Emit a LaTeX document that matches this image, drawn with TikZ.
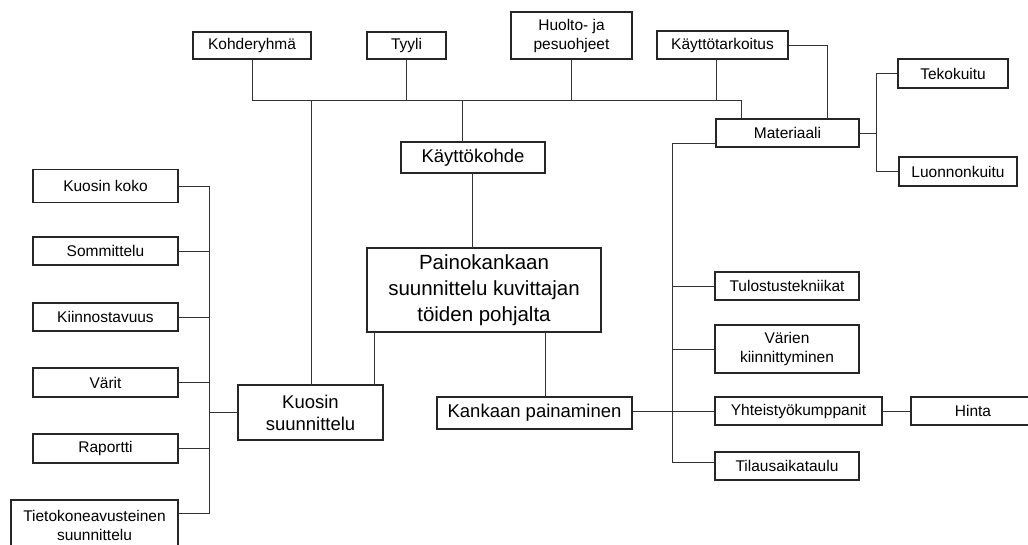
\documentclass[tikz,border=0pt]{standalone}
\usepackage{fontspec}
\setmainfont{Liberation Sans}
\begin{document}
\begin{tikzpicture}[x=1pt,y=-1pt,
  box/.style={draw=black!85, line width=1.2pt, fill=white, inner sep=0pt, align=center,
    font=\fontsize{15.5}{19}\selectfont},
  bigbox/.style={box, line width=2pt, font=\fontsize{18.5}{22}\selectfont},
  wire/.style={draw=black!80, line width=1pt}]
\useasboundingbox (0,0) rectangle (1028,544);
% top row
\node[box, minimum width=118, minimum height=27] (koh) at (252,45.5) {Kohderyhmä};
\node[box, minimum width=79, minimum height=27] (tyy) at (406.5,45.5) {Tyyli};
\node[box, minimum width=121, minimum height=47] (huo) at (571.5,35.5) {Huolto- ja\\pesuohjeet};
\node[box, minimum width=131, minimum height=28] (kat) at (722.5,45) {Käyttötarkoitus};
% right upper
\node[box, minimum width=143, minimum height=28] (mat) at (787.5,133) {Materiaali};
\node[box, minimum width=110, minimum height=29] (tek) at (953,73.5) {Tekokuitu};
\node[box, minimum width=118, minimum height=29] (luo) at (958,171.5) {Luonnonkuitu};
% center
\node[bigbox, minimum width=144, minimum height=31] (kk) at (473,157.5) {Käyttökohde};
\node[bigbox, minimum width=234, minimum height=84, font=\fontsize{20.5}{26}\selectfont] (pai) at (484,290) {Painokankaan\\suunnittelu kuvittajan\\töiden pohjalta};
\node[bigbox, minimum width=145, minimum height=55] (kuo) at (310.5,412.5) {Kuosin\\suunnittelu};
\node[bigbox, minimum width=195, minimum height=32] (kan) at (534.5,413) {Kankaan painaminen};
% right lower
\node[box, minimum width=144, minimum height=28] (tul) at (787,286) {Tulostustekniikat};
\node[box, minimum width=144, minimum height=48] (var) at (787,349) {Värien\\kiinnittyminen};
\node[box, minimum width=167, minimum height=28] (yht) at (798.5,411) {Yhteistyökumppanit};
\node[box, minimum width=124, minimum height=28] (hin) at (973,411) {Hinta};
\node[box, minimum width=144, minimum height=28] (til) at (787,466) {Tilausaikataulu};
% left column
\node[box, minimum width=145, minimum height=33] (koko) at (105.5,186) {Kuosin koko};
\node[box, minimum width=145, minimum height=28] (som) at (105.5,251) {Sommittelu};
\node[box, minimum width=145, minimum height=28] (kii) at (105.5,317) {Kiinnostavuus};
\node[box, minimum width=145, minimum height=29] (vri) at (105.5,382.5) {Värit};
\node[box, minimum width=145, minimum height=29] (rap) at (105.5,448.5) {Raportti};
\node[box, minimum width=167, minimum height=50] (tie) at (94.5,525) {Tietokoneavusteinen\\suunnittelu};
% coordinates
\coordinate (busL) at (252,100);
\coordinate (busR) at (741,100);
\coordinate (lbusT) at (209,186);
\coordinate (lbusB) at (209,513);
\coordinate (rbusT) at (672,143);
\coordinate (rbusB) at (672,462);
\coordinate (mbus) at (876,133);
% top bus
\draw[wire] (koh.south) -- (busL) -- (busR) -- (busR |- mat.north);
\draw[wire] (tyy.south) -- (tyy.south |- busL);
\draw[wire] (huo.south) -- (huo.south |- busL);
\draw[wire] (716,59) -- (716,100);
\draw[wire] (462,100) -- (462,142);
\draw[wire] (311,100) -- (311,385);
\draw[wire] (kat.east) -| (827,119);
% center
\draw[wire] (472,173) -- (472,248);
\draw[wire] (374,332) -- (374,385);
\draw[wire] (545,332) -- (545,397);
% materiaali branches
\draw[wire] (mat.east) -- (mbus);
\draw[wire] (876,73) |- (tek.west);
\draw[wire] (876,73) |- (luo.west);
\draw[wire] (mat.west |- rbusT) -- (rbusT) -- (rbusB) -- (til.west |- rbusB);
\draw[wire] (tul.west) -- (tul.west -| rbusT);
\draw[wire] (var.west) -- (var.west -| rbusT);
\draw[wire] (kan.east |- yht.west) -- (yht.west);
\draw[wire] (yht.east) -- (hin.west);
% left bus
\draw[wire] (koko.east) -- (lbusT) -- (lbusB) -- (lbusB -| tie.east);
\draw[wire] (som.east) -- (som.east -| lbusT);
\draw[wire] (kii.east) -- (kii.east -| lbusT);
\draw[wire] (vri.east) -- (vri.east -| lbusT);
\draw[wire] (rap.east) -- (rap.east -| lbusT);
\draw[wire] (kuo.west) -- (kuo.west -| lbusT);
\end{tikzpicture}
\end{document}
